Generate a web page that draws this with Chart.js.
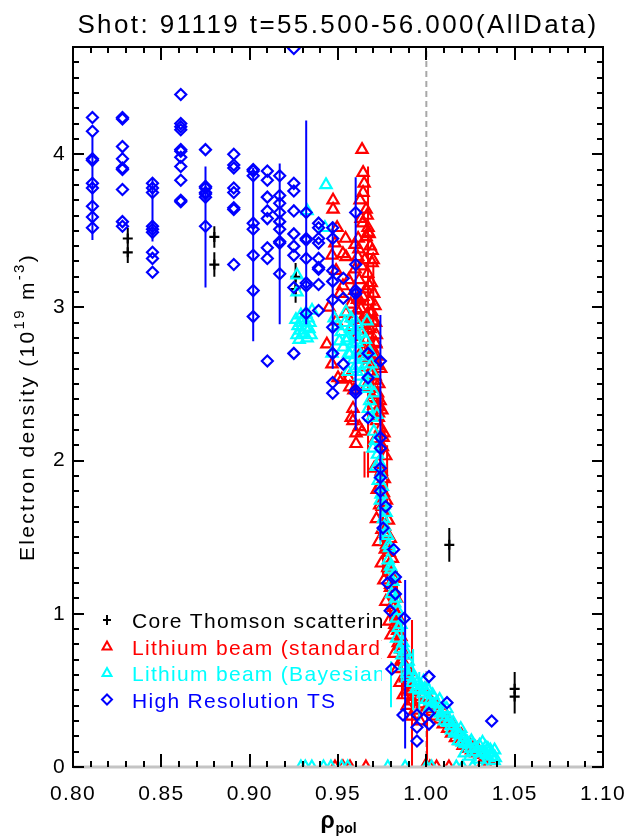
<!DOCTYPE html>
<html>
<head>
<meta charset="utf-8">
<script src="https://cdn.jsdelivr.net/npm/chart.js@4.4.1/dist/chart.umd.min.js"></script>
<style>
  body { margin: 0; background: #fff; }
  #wrap { width: 640px; height: 838px; }
</style>
</head>
<body>
<div id="wrap"><canvas id="profile"></canvas></div>
<script>
const FONT = "'Liberation Sans', Arial, sans-serif";

// ---- text ----
const titleText = 'Shot: 91119 t=55.500-56.000(AllData)';
const yTitleParts = ['Electron density (10', '19', ' m', '-3', ')'];
const xTitleParts = ['\u03c1', 'pol'];
const legendLabels = ['Core Thomson scattering', 'Lithium beam (standard)', 'Lithium beam (Bayesian)', 'High Resolution TS'];
const legendColors = ['#000000', '#ff0000', '#00ffff', '#0000ff'];
const legendSymbols = ['cross', 'triangle', 'triangle', 'diamond'];

// ---- axes ----
const xRange = [0.80, 1.10];
const yRange = [0, 4.7];
const xMinorStep = 0.01, xMajorStep = 0.05;
const yMinorStep = 0.1, yMajorStep = 1;
const separatrixX = [1.00];

// ---- core Thomson scattering ----
const coreX = [0.831, 0.831, 0.880, 0.880, 0.926, 0.926, 1.013, 1.050, 1.050];
const coreY = [3.45, 3.36, 3.46, 3.28, 3.20, 3.12, 1.45, 0.51, 0.46];
const coreErr = [0.07, 0.07, 0.07, 0.08, 0.09, 0.09, 0.11, 0.11, 0.11];

// ---- lithium beam (standard) ----
const liStdX = [
  0.9472,0.9472,0.9495,0.9483,0.9466,0.9528,0.9545,0.9489,0.9528,0.9511,0.9449,0.9545,0.9489,0.9437,0.9466,0.9500,0.9522,0.9567,0.9585,0.9585,0.9602,0.9602,0.9636,0.9560,0.9590,0.9575,0.9620,0.9543,0.9610,
  0.9636,0.9642,0.9648,0.9642,0.9625,0.9659,0.9631,0.9670,0.9659,0.9693,0.9693,0.9682,0.9614,0.9665,0.9676,
  0.9612,0.9634,0.9651,0.9668,0.9620,0.9659,0.9688,0.9641,0.9679,0.9702,0.9630,0.9662,0.9691,0.9709,0.9650,0.9681,0.9698,0.9717,0.9661,0.9690,0.9712,0.9643,0.9672,0.9700,0.9722,0.9684,0.9710,0.9731,0.9694,0.9720,0.9738,0.9703,0.9729,0.9748,0.9719,0.9741,0.9760,0.9712,0.9751,0.9770,
  0.9560,0.9572,0.9588,0.9597,0.9605,0.9618,0.9627,0.9639,0.9655,0.9671,0.9684,0.9699,0.9706,0.9715,0.9724,0.9581,0.9594,0.9609,0.9623,0.9647,0.9669,0.9686,0.9703,0.9719,0.9733,0.9596,0.9616,0.9637,0.9658,0.9678,0.9697,0.9713,0.9728,0.9742,0.9755,
  0.9728,0.9745,0.9762,0.9739,0.9757,0.9774,0.9750,0.9768,0.9785,0.9763,0.9779,0.9796,0.9775,0.9790,0.9808,0.9786,0.9803,0.9820,0.9798,0.9815,0.9831,0.9809,0.9826,0.9843,0.9822,0.9838,0.9856,0.9841,0.9858,0.9874,0.9861,0.9879,0.9895,0.9884,0.9902,0.9921,0.9910,0.9933,0.9955,
  0.9705,0.9722,0.9736,0.9718,0.9749,0.9731,0.9768,0.9746,0.9782,0.9760,0.9797,0.9771,0.9812,0.9789,0.9827,0.9801,0.9846,0.9818,0.9864,0.9834,0.9882,0.9851,0.9901,0.9870,0.9918,0.9892,0.9941,0.9915,0.9964,
  0.9978,1.0005,1.0031,1.0052,1.0078,1.0096,1.0121,1.0143,1.0165,1.0189,1.0208,1.0232,1.0256,1.0281,1.0305,1.0330,1.0352,1.0048,1.0110,1.0175,1.0221,1.0270,
  1.0010,1.0062,1.0105,1.0150,1.0198,1.0245,1.0290,1.0325,
  0.9483,0.9528,0.9568,0.9658,0.9992,1.0020,1.0058,1.0128,1.0310,1.0348
];
const liStdY = [
  3.70,3.64,3.52,3.42,3.34,3.35,3.33,3.24,3.14,3.09,3.00,2.96,2.91,2.76,2.63,2.54,2.53,2.48,2.34,2.26,2.18,2.11,2.19,2.54,2.46,2.28,2.22,3.45,3.05,
  4.03,3.88,3.81,3.75,3.70,3.64,3.58,3.52,3.46,3.37,3.29,3.40,3.45,3.60,3.48,
  3.33,3.27,3.31,3.22,3.18,3.12,3.16,3.07,3.04,3.09,2.99,2.95,2.97,3.01,2.88,2.86,2.91,2.82,2.79,2.74,2.77,2.71,2.66,2.69,2.62,2.58,2.55,2.50,2.47,2.43,2.39,2.36,2.31,2.33,2.26,2.21,2.18,2.14,2.09,2.03,
  3.18,3.02,2.93,3.25,2.81,3.38,2.70,3.55,2.61,3.49,2.57,3.31,2.64,2.76,2.44,2.87,3.11,2.98,2.89,2.73,2.85,2.96,2.52,2.68,2.35,3.41,3.06,2.92,2.48,3.14,2.41,2.90,2.28,2.60,2.15,
  1.98,1.93,1.88,1.84,1.79,1.74,1.70,1.66,1.61,1.57,1.52,1.49,1.45,1.40,1.36,1.31,1.27,1.23,1.19,1.14,1.10,1.06,1.01,0.97,0.93,0.89,0.85,0.81,0.77,0.73,0.70,0.66,0.62,0.59,0.56,0.52,0.49,0.46,0.44,
  1.95,1.81,1.71,1.62,1.55,1.47,1.42,1.33,1.30,1.22,1.17,1.08,1.04,0.95,0.91,0.86,0.79,0.74,0.69,0.64,0.58,0.55,0.50,0.47,0.43,0.40,0.37,0.33,0.30,
  0.41,0.39,0.36,0.33,0.31,0.28,0.25,0.22,0.19,0.17,0.14,0.12,0.11,0.09,0.08,0.06,0.05,0.38,0.31,0.23,0.16,0.13,
  0.46,0.40,0.35,0.27,0.21,0.15,0.12,0.09,
  0,0,0,0,0,0,0,0,0,0
];
const liStdErrX  = [0.9670, 0.9670, 0.9750, 0.9650, 0.9834, 0.9919, 1.0004, 0.9755, 0.9778, 0.9795, 0.9862, 0.9700];
const liStdErrLo = [2.20, 1.89, 1.48, 1.89, 0.83, 0.00, 0.00, 1.24, 1.55, 0.95, 0.45, 2.45];
const liStdErrHi = [3.92, 2.48, 2.43, 2.06, 1.28, 0.96, 0.48, 1.72, 2.10, 1.45, 0.95, 3.30];

// ---- lithium beam (Bayesian) ----
const liBayX = [
  0.9432,0.9426,0.9325,0.9268,0.9268,
  0.9262,0.9274,0.9285,0.9296,0.9302,0.9313,0.9325,0.9336,0.9347,0.9290,0.9330,0.9353,0.9268,0.9341,0.9280,0.9318,
  0.9478,0.9497,0.9518,0.9539,0.9552,0.9571,0.9583,0.9598,0.9612,0.9531,0.9560,0.9589,0.9620,0.9508,0.9466,0.9545,0.9605,
  0.9548,0.9566,0.9579,0.9593,0.9607,0.9622,0.9636,0.9649,0.9664,0.9680,0.9695,0.9558,0.9574,0.9601,0.9628,0.9655,0.9671,0.9688,0.9705,0.9720,
  0.9632,0.9651,0.9662,0.9680,0.9672,0.9691,0.9703,0.9712,0.9724,0.9733,0.9742,0.9751,0.9744,0.9761,0.9772,0.9763,0.9781,0.9792,0.9784,0.9801,0.9810,0.9803,0.9821,0.9830,0.9841,0.9832,0.9852,0.9862,0.9873,0.9891,0.9902,0.9921,0.9940,0.9961,0.9982,1.0001,1.0020,1.0041,1.0062,1.0081,1.0102,1.0121,1.0142,1.0160,1.0181,1.0203,1.0220,1.0251,1.0280,1.0310,1.0341,1.0372,1.0390,
  0.9698,0.9716,0.9728,0.9740,0.9757,0.9769,0.9786,0.9797,0.9815,0.9826,0.9838,0.9856,0.9868,0.9884,0.9897,0.9912,0.9930,0.9949,0.9968,0.9990,
  0.9985,1.0012,1.0036,1.0058,1.0075,1.0098,1.0116,1.0133,1.0152,1.0171,1.0192,1.0214,1.0233,1.0255,1.0278,1.0301,1.0322,1.0348,1.0368,1.0386,1.0020,1.0090,1.0140,1.0195,
  1.0215,1.0262,1.0298,1.0335,1.0362,1.0384,1.0246,1.0318,
  0.9290,0.9315,0.9352,0.9418,0.9460,0.9520,0.9555,0.9782,0.9880,1.0000,1.0030,1.0170,1.0205,1.0262,1.0330
];
const liBayY = [
  3.80,3.52,3.63,3.21,3.10,
  2.92,2.88,2.85,2.90,2.83,2.87,2.80,2.86,2.82,2.95,2.93,2.98,2.82,2.90,2.79,2.96,
  2.93,2.88,2.84,2.90,2.80,2.86,2.76,2.82,2.72,2.74,2.70,2.66,2.62,2.78,2.70,2.97,2.90,
  2.78,2.69,2.88,2.60,2.77,2.55,2.83,2.66,2.91,2.71,2.57,2.58,2.93,2.85,2.68,2.79,2.49,2.63,2.44,2.30,
  2.58,2.51,2.47,2.39,2.34,2.28,2.19,2.13,2.04,1.99,1.91,1.83,1.78,1.71,1.66,1.57,1.51,1.43,1.35,1.29,1.21,1.13,1.07,0.97,0.91,0.84,0.77,0.73,0.66,0.61,0.59,0.55,0.51,0.50,0.48,0.44,0.43,0.41,0.36,0.35,0.30,0.29,0.24,0.22,0.17,0.16,0.15,0.12,0.10,0.09,0.08,0.07,0.06,
  2.08,1.96,1.87,1.74,1.62,1.53,1.45,1.31,1.25,1.10,1.02,0.93,0.81,0.75,0.69,0.63,0.58,0.55,0.53,0.51,
  0.56,0.50,0.47,0.42,0.44,0.37,0.38,0.30,0.29,0.23,0.21,0.19,0.16,0.17,0.13,0.14,0.10,0.12,0.09,0.11,0.39,0.33,0.27,0.25,
  0.09,0.15,0.05,0.13,0.11,0.04,0.07,0.16,
  0,0,0,0,0,0,0,0,0,0,0,0,0,0,0
];
const liBayErrX  = [0.9800, 0.9925, 0.9860, 0.9960, 0.9740];
const liBayErrLo = [0.39, 0.37, 0.55, 0.30, 1.45];
const liBayErrHi = [0.69, 0.77, 0.95, 0.62, 1.95];

// ---- high resolution TS: channels and densities per channel ----
const hrtsChannel = [0.811, 0.828, 0.845, 0.861, 0.875, 0.891, 0.902, 0.910, 0.917, 0.925, 0.932, 0.939, 0.947, 0.953, 0.960, 0.967, 0.974];
const hrtsDensity = [
  [4.24,4.15,3.97,3.96,3.81,3.78,3.66,3.59,3.52],
  [4.24,4.23,4.05,3.97,3.91,3.90,3.77,3.56,3.53],
  [3.81,3.78,3.75,3.53,3.51,3.49,3.36,3.32,3.23],
  [4.39,4.20,4.18,4.16,4.03,4.02,3.98,3.92,3.83,3.70,3.69],
  [4.03,3.79,3.78,3.75,3.74,3.72,3.53],
  [4.00,3.93,3.91,3.78,3.75,3.65,3.64,3.28],
  [3.90,3.89,3.86,3.55,3.51,3.34,3.11,2.94],
  [3.89,3.83,3.72,3.63,3.58,3.39,3.32,2.65],
  [3.86,3.73,3.68,3.62,3.56,3.51,3.43,3.42,3.22],
  [4.69,3.81,3.76,3.63,3.48,3.40,3.34,3.13,2.70],
  [3.62,3.45,3.44,3.32,3.16,3.14,2.96],
  [3.55,3.52,3.45,3.42,3.32,3.26,3.25,3.15,2.98],
  [3.52,3.45,3.24,3.17,3.05,2.87,2.70,2.51,2.44],
  [3.19,3.06,2.63],
  [3.62,3.28,3.11,3.09,2.46,2.44],
  [2.70,2.54,2.28],
  [2.65,2.15,2.08,1.95,1.89,1.80]
];
const hrtsEdgeX = [0.9755,0.9770,0.9780,0.9815,0.9825,0.9825,0.9795,0.9875,0.9805,0.9868,0.9947,0.9947,0.9947,1.0015,1.0015,1.0015,1.0117,1.0370];
const hrtsEdgeY = [1.56,1.70,1.20,1.42,1.24,1.13,1.02,0.97,0.64,0.34,0.34,0.26,0.17,0.59,0.35,0.28,0.42,0.30];
const hrtsErrX  = [0.811, 0.845, 0.875, 0.902, 0.917, 0.932, 0.947, 0.960, 0.974, 0.988];
const hrtsErrLo = [3.44, 3.43, 3.13, 2.78, 2.89, 2.89, 2.60, 2.20, 1.48, 0.12];
const hrtsErrHi = [4.12, 3.84, 3.92, 3.91, 3.94, 4.22, 3.56, 3.85, 2.95, 1.22];

// ---- build chart data ----
const pts = (xs, ys) => xs.map((x, i) => ({ x, y: ys[i] }));
const bars = (xs, lo, hi) => {
  const d = [];
  xs.forEach((x, i) => { d.push({ x, y: lo[i] }, { x, y: hi[i] }, { x, y: null }); });
  return d;
};
const hrtsPts = [];
hrtsChannel.forEach((x, i) => hrtsDensity[i].forEach(y => hrtsPts.push({ x, y })));
pts(hrtsEdgeX, hrtsEdgeY).forEach(p => hrtsPts.push(p));

const errSet = (data, color, order) => ({
  type: 'line', data, showLine: true, spanGaps: false, borderColor: color,
  borderWidth: 2, pointRadius: 0, order
});
const markSet = (label, data, color, style, radius, order) => ({
  type: 'scatter', label, data, pointStyle: style, pointRadius: radius,
  borderColor: color, backgroundColor: 'rgba(0,0,0,0)', pointBorderWidth: 2.2, order
});

const isMult = (v, step) => Math.abs(v / step - Math.round(v / step)) < 1e-6;

// frame with inward ticks on all four sides
const framePlugin = {
  id: 'frame',
  afterDraw(chart) {
    const { ctx, chartArea: a, scales: { x, y } } = chart;
    ctx.save();
    ctx.strokeStyle = '#c4c4c4';
    ctx.lineWidth = 3;
    ctx.beginPath(); ctx.moveTo(a.left, a.bottom); ctx.lineTo(a.right, a.bottom); ctx.stroke();
    ctx.strokeStyle = '#000';
    ctx.lineWidth = 2;
    ctx.beginPath();
    ctx.moveTo(a.left, a.bottom + 1); ctx.lineTo(a.left, a.top); ctx.lineTo(a.right, a.top); ctx.lineTo(a.right, a.bottom + 1);
    x.ticks.forEach(t => {
      const px = Math.round(x.getPixelForValue(t.value));
      const len = t.label ? 13 : 6;
      ctx.moveTo(px, a.bottom); ctx.lineTo(px, a.bottom - len);
      ctx.moveTo(px, a.top); ctx.lineTo(px, a.top + len);
    });
    y.ticks.forEach(t => {
      const py = Math.round(y.getPixelForValue(t.value));
      const len = t.label ? 11 : 6;
      ctx.moveTo(a.left, py); ctx.lineTo(a.left + len, py);
      ctx.moveTo(a.right, py); ctx.lineTo(a.right - len, py);
    });
    ctx.stroke();
    ctx.restore();
  }
};

const textPlugin = {
  id: 'texts',
  beforeDraw(chart) { chart.ctx.letterSpacing = '1.3px'; },
  beforeDatasetsDraw(chart) {
    const ctx = chart.ctx;
    ctx.save();
    ctx.beginPath(); ctx.rect(90, 600, 292, 120); ctx.clip();
    ctx.font = '21px ' + FONT;
    ctx.textAlign = 'left';
    ctx.textBaseline = 'alphabetic';
    ctx.lineWidth = 2;
    legendLabels.forEach((lab, i) => {
      const base = 628 + i * 26.5, cx = 107, cy = base - 8;
      ctx.fillStyle = legendColors[i];
      ctx.strokeStyle = legendColors[i];
      ctx.fillText(lab, 132, base);
      ctx.beginPath();
      if (legendSymbols[i] === 'cross') {
        ctx.moveTo(cx - 4, cy); ctx.lineTo(cx + 4, cy); ctx.moveTo(cx, cy - 5); ctx.lineTo(cx, cy + 5);
      } else if (legendSymbols[i] === 'triangle') {
        ctx.moveTo(cx, cy - 5); ctx.lineTo(cx + 4.5, cy + 3); ctx.lineTo(cx - 4.5, cy + 3); ctx.closePath();
      } else {
        ctx.moveTo(cx, cy - 5); ctx.lineTo(cx + 5, cy); ctx.lineTo(cx, cy + 5); ctx.lineTo(cx - 5, cy); ctx.closePath();
      }
      ctx.stroke();
    });
    ctx.restore();
  },
  afterDraw(chart) {
    const { ctx, chartArea: a } = chart;
    ctx.save();
    ctx.fillStyle = '#000';
    // title
    ctx.letterSpacing = '2.4px';
    ctx.font = '26px ' + FONT;
    ctx.textAlign = 'center';
    ctx.textBaseline = 'alphabetic';
    ctx.fillText(titleText, (a.left + a.right) / 2, 33);
    // y title with superscripts
    ctx.letterSpacing = '2.3px';
    ctx.textAlign = 'left';
    const big = '21px ' + FONT, small = '15px ' + FONT;
    const widths = yTitleParts.map((s, i) => { ctx.font = i % 2 ? small : big; return ctx.measureText(s).width; });
    const total = widths.reduce((p, w) => p + w, 0);
    ctx.translate(34, (a.top + a.bottom) / 2);
    ctx.rotate(-Math.PI / 2);
    let pos = -total / 2;
    yTitleParts.forEach((s, i) => {
      ctx.font = i % 2 ? small : big;
      ctx.fillText(s, pos, i % 2 ? -10 : 0);
      pos += widths[i];
    });
    ctx.setTransform(1, 0, 0, 1, 0, 0);
    // x title rho_pol
    ctx.letterSpacing = '0px';
    ctx.font = 'bold 23px ' + FONT;
    const w0 = ctx.measureText(xTitleParts[0]).width;
    ctx.font = 'bold 14px ' + FONT;
    const w1 = ctx.measureText(xTitleParts[1]).width;
    const x0 = (a.left + a.right) / 2 - (w0 + w1) / 2;
    ctx.font = 'bold 23px ' + FONT;
    ctx.fillText(xTitleParts[0], x0, 828);
    ctx.font = 'bold 14px ' + FONT;
    ctx.fillText(xTitleParts[1], x0 + w0 + 1, 833);
    ctx.restore();
  }
};

new Chart(document.getElementById('profile'), {
  type: 'scatter',
  data: {
    datasets: [
      markSet('High Resolution TS', hrtsPts, '#0000ff', 'rectRot', 5.5, 1),
      errSet(bars(hrtsErrX, hrtsErrLo, hrtsErrHi), '#0000ff', 1),
      markSet('Lithium beam (Bayesian)', pts(liBayX, liBayY), '#00ffff', 'triangle', 6.5, 2),
      errSet(bars(liBayErrX, liBayErrLo, liBayErrHi), '#00ffff', 2),
      markSet('Lithium beam (standard)', pts(liStdX, liStdY), '#ff0000', 'triangle', 6.5, 3),
      errSet(bars(liStdErrX, liStdErrLo, liStdErrHi), '#ff0000', 3),
      markSet('Core Thomson scattering', pts(coreX, coreY), '#000000', 'cross', 5, 4),
      errSet(bars(coreX, coreY.map((v, i) => v - coreErr[i]), coreY.map((v, i) => v + coreErr[i])), '#000000', 4),
      {
        type: 'line', data: [{ x: separatrixX[0], y: yRange[0] }, { x: separatrixX[0], y: yRange[1] }],
        showLine: true, borderColor: '#a8a8a8', borderWidth: 2, borderDash: [6, 4], pointRadius: 0, order: 5
      }
    ]
  },
  options: {
    responsive: true,
    maintainAspectRatio: false,
    animation: false,
    devicePixelRatio: 1,
    layout: { padding: { top: 47, right: 37, left: 0, bottom: 0 } },
    plugins: { legend: { display: false }, tooltip: { enabled: false } },
    scales: {
      x: {
        type: 'linear', min: xRange[0], max: xRange[1],
        afterFit: s => { s.height = 71; },
        grid: { display: false, drawTicks: false, tickLength: 0 },
        border: { display: false },
        ticks: {
          stepSize: xMinorStep, autoSkip: false, maxRotation: 0, minRotation: 0, padding: 15,
          color: '#000', font: { family: FONT, size: 21 },
          callback: v => isMult(v, xMajorStep) ? v.toFixed(2) : ''
        }
      },
      y: {
        type: 'linear', min: yRange[0], max: yRange[1],
        afterFit: s => { s.width = 73; },
        grid: { display: false, drawTicks: false, tickLength: 0 },
        border: { display: false },
        ticks: {
          stepSize: yMinorStep, autoSkip: false, padding: 7,
          color: '#000', font: { family: FONT, size: 21 },
          callback: v => isMult(v, yMajorStep) ? String(Math.round(v)) : ''
        }
      }
    }
  },
  plugins: [framePlugin, textPlugin]
});
</script>
</body>
</html>
